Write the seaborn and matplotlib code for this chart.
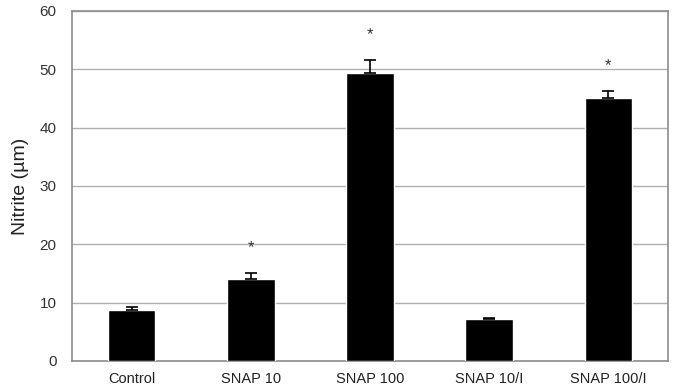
import matplotlib
matplotlib.use("Agg")
import matplotlib.pyplot as plt
import numpy as np
import pandas as pd
import seaborn as sns

# Data
groups = ["Control", "SNAP 10", "SNAP 100", "SNAP 10/I", "SNAP 100/I"]
nitrite = [8.7, 14.1, 49.4, 7.2, 45.1]
nitrite_err = [0.6, 0.9, 2.2, 0.2, 1.2]
significant = [False, True, True, False, True]

df = pd.DataFrame({"group": groups, "nitrite": nitrite})

sns.set_style("white")
plt.rcParams["font.family"] = ["Liberation Sans", "DejaVu Sans"]

fig = plt.figure(figsize=(6.73, 3.90), dpi=100)
ax = fig.add_axes([0.107, 0.0744, 0.8856, 0.8974])

sns.barplot(data=df, x="group", y="nitrite", color="black", width=0.4,
            saturation=1, errorbar=None, ax=ax, zorder=3)
x = np.arange(len(groups))
ax.errorbar(x, nitrite, yerr=[np.zeros(len(x)), nitrite_err], fmt="none",
            ecolor="black", elinewidth=1.2, capsize=4, capthick=1.2, zorder=4)

# significance markers
for xi, v, e, sig in zip(x, nitrite, nitrite_err, significant):
    if sig:
        ax.text(xi, v + e + 4.4, "*", ha="center", va="center",
                fontsize=12, color="#333333")

ax.set_ylim(0, 60)
ax.set_xlim(-0.5, len(groups) - 0.5)
ax.set_yticks(range(0, 61, 10))
ax.yaxis.grid(True, color="#b0b0b0", linewidth=1)
ax.set_axisbelow(True)

# ticks between categories, labels centred under bars
ax.set_xticks(np.arange(0.5, len(groups) - 0.5, 1))
ax.set_xticklabels([])
ax.set_xticks(x, minor=True)
ax.set_xticklabels(groups, minor=True)
ax.tick_params(axis="x", which="major", length=5, color="#999999", direction="out")
ax.tick_params(axis="x", which="minor", length=0, pad=8, labelsize=10.5, labelcolor="#222222")
ax.tick_params(axis="y", length=4, color="#999999", direction="out", labelsize=11,
               labelcolor="#333333", pad=7)

for side in ["left", "right", "top", "bottom"]:
    ax.spines[side].set_visible(True)
    ax.spines[side].set_color("#8c8c8c")
    ax.spines[side].set_linewidth(1.2)

ax.set_xlabel("")
ax.set_ylabel("Nitrite (µm)", fontsize=14, color="#222222", labelpad=8)

fig.savefig("out.png", dpi=100)
